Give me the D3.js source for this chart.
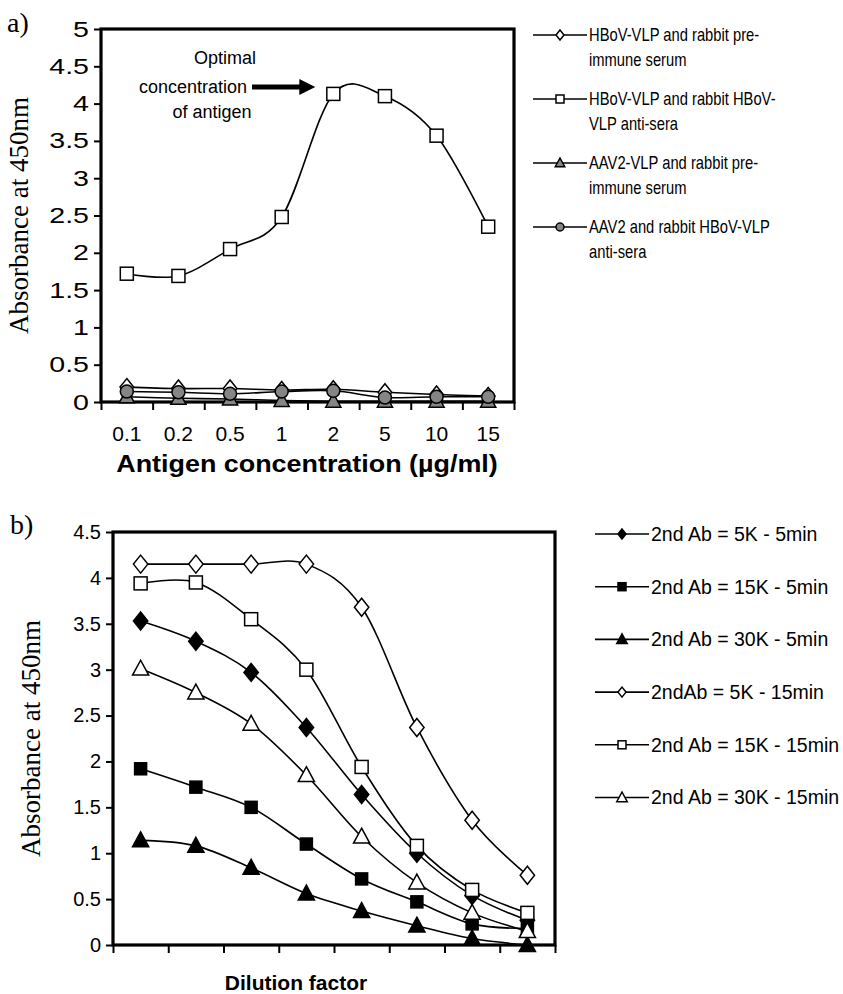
<!DOCTYPE html>
<html lang="en">
<head>
<meta charset="UTF-8">
<title>ELISA optimisation</title>
<style>
    body { margin: 0; background: #fff; }
    .tick text { font-family: Arial, "Liberation Sans", sans-serif; fill: #000; }
    .frame { fill: none; stroke: #000; stroke-width: 3.2px; }
    .curve { fill: none; stroke: #000; stroke-width: 1.6px; }
    .legend text { font-family: Arial, "Liberation Sans", sans-serif; fill: #000; }
</style>
</head>
<body>
<script src="https://d3js.org/d3.v7.min.js"></script>
<script>
    // panel a
    const concLabels = ["0.1", "0.2", "0.5", "1", "2", "5", "10", "15"];
    const hbovPre = [0.2, 0.18, 0.18, 0.16, 0.17, 0.13, 0.1, 0.08];
    const hbovAnti = [1.72, 1.69, 2.05, 2.48, 4.13, 4.1, 3.57, 2.35];
    const aav2Pre = [0.07, 0.05, 0.04, 0.02, 0.01, 0.01, 0.01, 0.01];
    const aav2Anti = [0.14, 0.13, 0.11, 0.14, 0.15, 0.06, 0.07, 0.07];
    const yTicksA = d3.range(0, 5.01, 0.5);

    // panel b
    const dilutionSteps = ["", "", "", "", "", "", "", ""];
    const ab5k5 = [3.53, 3.31, 2.97, 2.37, 1.64, 1.0, 0.54, 0.27];
    const ab15k5 = [1.92, 1.72, 1.5, 1.1, 0.72, 0.47, 0.23, 0.18];
    const ab30k5 = [1.14, 1.08, 0.84, 0.56, 0.37, 0.21, 0.07, 0.0];
    const ab5k15 = [4.15, 4.15, 4.15, 4.15, 3.68, 2.37, 1.36, 0.76];
    const ab15k15 = [3.94, 3.95, 3.55, 3.0, 1.94, 1.08, 0.6, 0.35];
    const ab30k15 = [3.01, 2.75, 2.41, 1.85, 1.18, 0.68, 0.35, 0.15];
    const yTicksB = d3.range(0, 4.51, 0.5);

    const width = 843, height = 994;
    const svg = d3.select("body").append("svg")
        .attr("width", width).attr("height", height);

    const smooth = d3.line().curve(d3.curveCardinal.tension(0));

    function marker(g, shape, size, fill) {
        let s;
        if (shape === "diamond") {
            const h = size / 2;
            s = g.append("path").attr("d", `M0,${-h}L${h * 0.8},0L0,${h}L${-h * 0.8},0Z`);
        } else if (shape === "square") {
            s = g.append("rect").attr("x", -size / 2).attr("y", -size / 2)
                .attr("width", size).attr("height", size);
        } else if (shape === "triangle") {
            const h = size / 2;
            s = g.append("path").attr("d", `M0,${-h}L${h * 0.95},${h * 0.75}L${-h * 0.95},${h * 0.75}Z`);
        } else {
            s = g.append("circle").attr("r", size / 2);
        }
        s.attr("fill", fill).attr("stroke", "#000").attr("stroke-width", 1.5);
    }

    function panel(opt) {
        const g = svg.append("g");
        const x = d3.scaleBand().domain(opt.cats.map((c, i) => i))
            .range([opt.left, opt.right]);
        const y = d3.scaleLinear().domain([0, opt.ymax]).range([opt.bottom, opt.top]);
        const cx = i => x(i) + x.bandwidth() / 2;

        // y axis
        g.append("g").attr("transform", `translate(${opt.left},0)`)
            .call(d3.axisLeft(y).tickValues(opt.yticks).tickSize(7).tickPadding(5)
                .tickFormat(d3.format("~g")))
            .call(a => a.select(".domain").remove())
            .call(a => a.selectAll(".tick line").attr("stroke-width", 2))
            .call(a => a.selectAll(".tick text").style("font-size", opt.tickFont + "px")
                .attr("x", null).attr("transform", `translate(-12,0) scale(${opt.tickScale},1)`));

        // x tick marks on band edges
        const edges = d3.scaleLinear().domain([0, opt.cats.length]).range([opt.left, opt.right]);
        g.append("g").attr("transform", `translate(0,${opt.bottom})`)
            .call(d3.axisBottom(edges).ticks(opt.cats.length).tickSize(8).tickFormat(""))
            .call(a => a.select(".domain").remove())
            .call(a => a.selectAll(".tick line").attr("stroke-width", 2));

        // x labels
        g.append("g").attr("transform", `translate(0,${opt.bottom})`)
            .call(d3.axisBottom(x).tickSize(0).tickPadding(24).tickFormat(i => opt.cats[i]))
            .call(a => a.select(".domain").remove())
            .call(a => a.selectAll(".tick text").style("font-size", opt.xFont + "px"));

        g.append("rect").attr("class", "frame")
            .attr("x", opt.left).attr("y", opt.top)
            .attr("width", opt.right - opt.left).attr("height", opt.bottom - opt.top);

        opt.series.forEach(s => {
            g.append("path").attr("class", "curve")
                .attr("d", smooth(s.values.map((v, i) => [cx(i), y(v)])));
        });
        opt.series.forEach(s => {
            s.values.forEach((v, i) => {
                const m = g.append("g").attr("transform", `translate(${cx(i)},${y(v)})`);
                marker(m, s.shape, s.size, s.fill);
            });
        });

        // axis titles
        g.append("text")
            .attr("transform", `translate(${opt.yTitleX},${(opt.top + opt.bottom) / 2}) rotate(-90)`)
            .attr("text-anchor", "middle").attr("dy", "0.35em")
            .style("font-family", "'Times New Roman', 'Liberation Serif', serif")
            .style("font-size", opt.yTitleFont + "px")
            .text("Absorbance at 450nm");
        g.append("text")
            .attr("transform", `translate(${opt.xTitleX},${opt.xTitleY}) scale(${opt.xTitleScale},1)`)
            .attr("text-anchor", "middle")
            .style("font-family", "Arial, 'Liberation Sans', sans-serif")
            .style("font-weight", "bold").style("font-size", opt.xTitleFont + "px")
            .text(opt.xTitle);

        g.append("text").attr("x", opt.tagX).attr("y", opt.tagY)
            .style("font-family", "'Times New Roman', 'Liberation Serif', serif")
            .style("font-size", "28px").text(opt.tag);

        // legend
        const lg = g.append("g").attr("class", "legend");
        opt.series.forEach((s, k) => {
            const ly = opt.legTop + k * opt.legStep;
            lg.append("line").attr("x1", opt.legX).attr("x2", opt.legX + 54)
                .attr("y1", ly).attr("y2", ly).attr("stroke", "#000").attr("stroke-width", 1.6);
            const m = lg.append("g").attr("transform", `translate(${opt.legX + 27},${ly})`);
            marker(m, s.shape, s.legSize, s.fill);
            const t = lg.append("text")
                .attr("transform", `translate(${opt.legX + 56},${ly}) scale(${opt.legScale},1)`)
                .style("font-size", opt.legFont + "px");
            s.label.forEach((line, j) => {
                t.append("tspan").attr("x", 0).attr("dy", j === 0 ? "0.35em" : opt.legLine)
                    .text(line);
            });
        });
        return {g, x, y, cx};
    }

    const gray = "#858585";
    const a = panel({
        cats: concLabels, left: 101, right: 514, top: 29, bottom: 402,
        ymax: 5, yticks: yTicksA, tickFont: 22, tickScale: 1.3, xFont: 21,
        yTitleX: 19, yTitleFont: 27, xTitleX: 307, xTitleY: 472, xTitleFont: 23, xTitleScale: 1.17,
        xTitle: "Antigen concentration (\u00b5g/ml)",
        tag: "a)", tagX: 7, tagY: 32,
        legX: 533, legTop: 35, legStep: 64, legFont: 18, legScale: 0.82, legLine: 25,
        series: [
            {values: hbovPre, shape: "diamond", size: 17, legSize: 10, fill: "#fff",
                label: ["HBoV-VLP and rabbit pre-", "immune serum"]},
            {values: hbovAnti, shape: "square", size: 13, legSize: 8, fill: "#fff",
                label: ["HBoV-VLP and rabbit HBoV-", "VLP anti-sera"]},
            {values: aav2Pre, shape: "triangle", size: 16, legSize: 10, fill: gray,
                label: ["AAV2-VLP and rabbit pre-", "immune serum"]},
            {values: aav2Anti, shape: "circle", size: 13, legSize: 8, fill: gray,
                label: ["AAV2 and rabbit HBoV-VLP", "anti-sera"]}
        ]
    });

    // annotation: optimal concentration
    const note = a.g.append("text")
        .attr("text-anchor", "middle")
        .style("font-family", "Arial, 'Liberation Sans', sans-serif")
        .style("font-size", "18px");
    [["Optimal", 225, 64], ["concentration", 193, 93], ["of antigen", 212, 118]].forEach(([t, tx, ty]) => {
        note.append("tspan").attr("x", tx).attr("y", ty).text(t);
    });
    const tipX = a.cx(4) - 18, tipY = a.y(4.13) - 7;
    a.g.append("line").attr("x1", 252).attr("x2", tipX - 12)
        .attr("y1", tipY).attr("y2", tipY).attr("stroke", "#000").attr("stroke-width", 5);
    a.g.append("path")
        .attr("d", `M${tipX},${tipY}L${tipX - 16},${tipY - 8}L${tipX - 16},${tipY + 8}Z`)
        .attr("fill", "#000");

    panel({
        cats: dilutionSteps, left: 113, right: 555, top: 532, bottom: 945,
        ymax: 4.5, yticks: yTicksB, tickFont: 20, tickScale: 1, xFont: 20,
        yTitleX: 31, yTitleFont: 27, xTitleX: 296, xTitleY: 990, xTitleFont: 21, xTitleScale: 1,
        xTitle: "Dilution factor",
        tag: "b)", tagX: 10, tagY: 534,
        legX: 595, legTop: 534, legStep: 52.7, legFont: 19.5, legScale: 1, legLine: 25,
        series: [
            {values: ab5k5, shape: "diamond", size: 18, legSize: 10, fill: "#000",
                label: ["2nd Ab = 5K - 5min"]},
            {values: ab15k5, shape: "square", size: 12, legSize: 8, fill: "#000",
                label: ["2nd Ab = 15K - 5min"]},
            {values: ab30k5, shape: "triangle", size: 17, legSize: 11, fill: "#000",
                label: ["2nd Ab = 30K - 5min"]},
            {values: ab5k15, shape: "diamond", size: 18, legSize: 10, fill: "#fff",
                label: ["2ndAb = 5K - 15min"]},
            {values: ab15k15, shape: "square", size: 13, legSize: 8, fill: "#fff",
                label: ["2nd Ab = 15K - 15min"]},
            {values: ab30k15, shape: "triangle", size: 17, legSize: 11, fill: "#fff",
                label: ["2nd Ab = 30K - 15min"]}
        ]
    });
</script>
</body>
</html>
